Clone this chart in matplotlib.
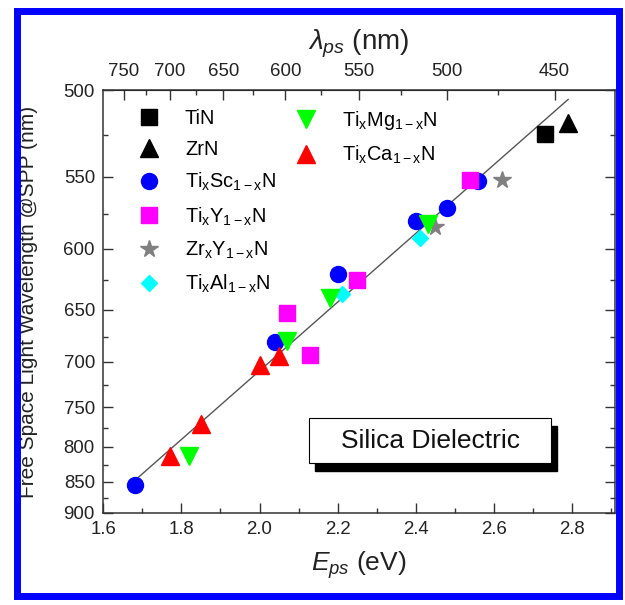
import numpy as np
import matplotlib
matplotlib.use('Agg')
import matplotlib.pyplot as plt
from matplotlib.patches import Rectangle
from matplotlib.ticker import FixedLocator, MultipleLocator, FormatStrFormatter

plt.rcParams['font.family'] = ['Liberation Sans', 'DejaVu Sans']
plt.rcParams['mathtext.fontset'] = 'custom'
plt.rcParams['mathtext.rm'] = 'Liberation Sans'
plt.rcParams['mathtext.it'] = 'Liberation Sans:italic'
plt.rcParams['mathtext.default'] = 'regular'

HC = 1239.84  # eV*nm

# plasmon energy (eV) vs free space wavelength at SPP (nm)
tin_e, tin_nm = [2.73], [524]
zrn_e, zrn_nm = [2.79], [518]
sc_e = [1.68, 2.04, 2.20, 2.40, 2.48, 2.56]
sc_nm = [855, 680, 620, 580, 571, 553]
y_e = [2.54, 2.25, 2.07, 2.13]
y_nm = [552, 625, 653, 693]
zry_e = [2.62, 2.45]
zry_nm = [552, 584]
al_e = [2.41, 2.21]
al_nm = [592, 636]
mg_e = [2.43, 2.18, 2.07, 1.82]
mg_nm = [582, 640, 679, 812]
ca_e = [1.77, 1.85, 2.00, 2.05]
ca_nm = [812, 770, 703, 694]

# linear fit drawn through the points
fit_e = [1.69, 2.79]
fit_nm = [843, 505]

labels = ['TiN', 'ZrN', 'Ti$_x$Sc$_{1-x}$N', 'Ti$_x$Y$_{1-x}$N',
          'Zr$_x$Y$_{1-x}$N', 'Ti$_x$Al$_{1-x}$N',
          'Ti$_x$Mg$_{1-x}$N', 'Ti$_x$Ca$_{1-x}$N']
xs = [tin_e, zrn_e, sc_e, y_e, zry_e, al_e, mg_e, ca_e]
ys = [tin_nm, zrn_nm, sc_nm, y_nm, zry_nm, al_nm, mg_nm, ca_nm]
markers = ['s', '^', 'o', 's', '*', 'D', 'v', '^']
colors = ['black', 'black', '#0000ff', '#ff00ff', '#808080', '#00ffff', '#00ff00', '#ff0000']
sizes = [11, 13, 11.5, 11, 13, 8, 13, 13]


def flip(v):
    v = np.asarray(v, dtype=float)
    with np.errstate(divide='ignore'):
        return HC / v


fig = plt.figure(figsize=(6.25, 6.05), dpi=100)
ax = fig.add_axes([0.1653, 0.1521, 0.8187, 0.6991])
ax.set_yscale('function', functions=(flip, flip))

ax.plot(fit_e, fit_nm, color='#555555', lw=1.0, zorder=1)
handles = []
for x, y, m, c, s, lab in zip(xs, ys, markers, colors, sizes, labels):
    h, = ax.plot(x, y, ls='none', marker=m, color=c, mec=c, ms=s, label=lab, zorder=2)
    handles.append(h)

ax.set_xlim(1.6, 2.91)
ax.set_ylim(500, 900)
ax.xaxis.set_major_locator(MultipleLocator(0.2))
ax.xaxis.set_minor_locator(MultipleLocator(0.1))
ax.xaxis.set_major_formatter(FormatStrFormatter('%.1f'))
ax.yaxis.set_major_locator(FixedLocator(np.arange(500, 901, 50)))
ax.yaxis.set_minor_locator(FixedLocator(np.arange(525, 900, 50)))
ax.yaxis.set_major_formatter(FormatStrFormatter('%d'))

tc = '#222222'
ax.tick_params(which='both', direction='in', top=False, right=True,
               labelsize=13.4, labelcolor=tc, color='#333333', width=1.0, pad=6)
ax.tick_params(which='major', length=7)
ax.tick_params(which='minor', length=3.5)
for sp in ax.spines.values():
    sp.set_linewidth(1.1)
    sp.set_color('#333333')

sec = ax.secondary_xaxis('top', functions=(flip, flip))
sec.xaxis.set_major_locator(FixedLocator(np.arange(450, 751, 50)))
sec.xaxis.set_minor_locator(FixedLocator(np.arange(475, 750, 50)))
sec.xaxis.set_major_formatter(FormatStrFormatter('%d'))
sec.tick_params(which='both', direction='in', labelsize=13.4, labelcolor=tc,
                color='#333333', width=1.0, pad=7)
sec.tick_params(which='major', length=7)
sec.tick_params(which='minor', length=3.5)
sec.set_xlabel(r'$\mathit{\lambda_{ps}}$ (nm)', fontsize=20, color=tc, labelpad=10)

ax.set_xlabel(r'$\mathit{E_{ps}}$ (eV)', fontsize=19, color=tc, labelpad=8)
ax.set_ylabel('Free Space Light Wavelength @SPP (nm)', fontsize=15, color=tc)
ax.yaxis.set_label_coords(-0.128, 0.5)

leg_kw = dict(loc='upper left', frameon=False, fontsize=14.4, borderpad=0,
              borderaxespad=0, labelspacing=0.6, handletextpad=0.8, handlelength=2.0)
leg1 = ax.legend(handles=handles[:6], bbox_to_anchor=(0.050, 0.955), **leg_kw)
ax.add_artist(leg1)
ax.legend(handles=handles[6:], bbox_to_anchor=(0.358, 0.955), **leg_kw)

# "Silica Dielectric" box with drop shadow
bx, by, bw, bh = 0.4026, 0.1175, 0.4718, 0.1064
ax.add_patch(Rectangle((bx + 0.0117, by - 0.0177), bw, bh, transform=ax.transAxes,
                       facecolor='black', edgecolor='black', zorder=3))
ax.add_patch(Rectangle((bx, by), bw, bh, transform=ax.transAxes,
                       facecolor='white', edgecolor='black', lw=0.8, zorder=4))
ax.text(bx + bw / 2, by + bh / 2, 'Silica Dielectric', transform=ax.transAxes,
        ha='center', va='center', fontsize=19, color='#111111', zorder=5)

# blue frame around the whole figure
fig.add_artist(Rectangle((17 / 625, 1 - 596 / 605), 602 / 625, 585.5 / 605,
                         transform=fig.transFigure, fill=False,
                         edgecolor='#0000ff', lw=5))

fig.savefig('out.png', dpi=100)
